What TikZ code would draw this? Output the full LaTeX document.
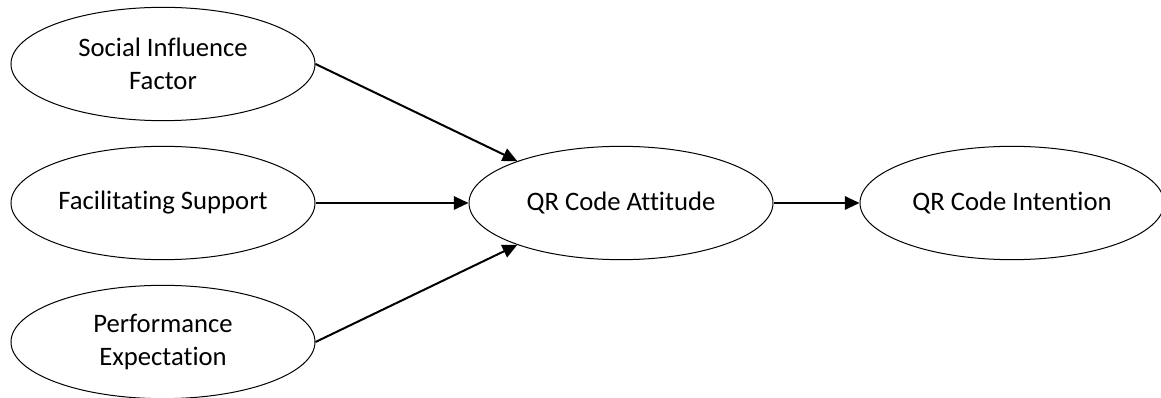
\documentclass[tikz,border=0pt]{standalone}
\usepackage{fontspec}
\setmainfont{Carlito}[Ligatures=NoCommon]
\usetikzlibrary{arrows.meta,shapes.geometric}

\tikzset{
  factor/.style={ellipse,draw,line width=0.75pt,minimum width=228pt,minimum height=85pt,inner sep=0pt,align=center,font=\fontsize{20}{25}\selectfont},
  link/.style={line width=1.5pt,-{Triangle[length=11pt,width=10pt]}}
}

\begin{document}
\begin{tikzpicture}[x=0.75pt,y=-0.75pt]
\useasboundingbox (0,0) rectangle (1161,398);
\node[factor] (sif) at (163,64) {Social Influence\\Factor};
\node[factor] (fs) at (163,203) {Facilitating Support};
\node[factor] (pe) at (163,342) {Performance\\Expectation};
\node[factor] (att) at (621,203) {QR Code Attitude};
\node[factor] (int) at (1012,203) {QR Code Intention};
\draw[link] (sif.east) -- (att.158);
\draw[link] (fs.east) -- (att.west);
\draw[link] (pe.east) -- (att.202);
\draw[link] (att.east) -- (int.west);
\end{tikzpicture}
\end{document}
